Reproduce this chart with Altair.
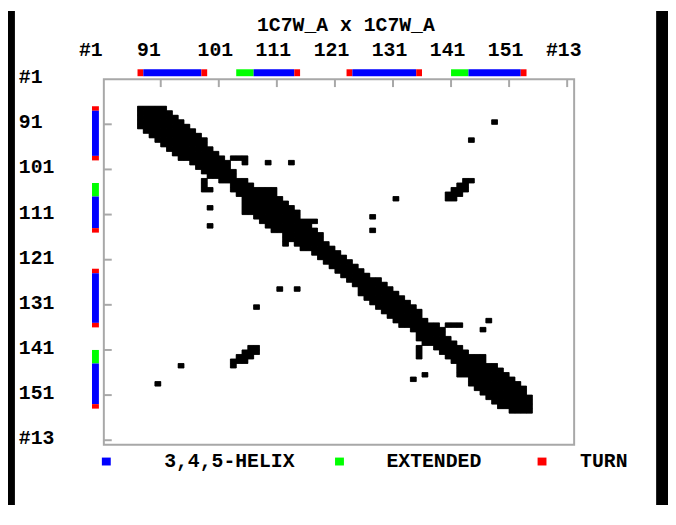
import altair as alt
import pandas as pd

# ---------------- data ----------------
TITLE = "1C7W_A x 1C7W_A"
AXIS_TICKS = [81, 91, 101, 111, 121, 131, 141, 151, 161]
AXIS_LABELS = ["#1", "91", "101", "111", "121", "131", "141", "151", "#13"]

# contact band: for residue BAND_START + k, contacts run up to BAND_UPPER[k]
BAND_START = 87
BAND_UPPER = [91, 92, 93, 94, 95, 96, 97, 98, 98, 99,
              100, 101, 102, 102, 103, 103, 105, 106, 110, 110,
              111, 112, 113, 114, 114, 117, 116, 117, 118, 118,
              119, 120, 121, 122, 123, 124, 125, 126, 128, 129,
              130, 131, 132, 133, 134, 135, 135, 136, 138, 139,
              139, 140, 141, 142, 143, 146, 146, 148, 149, 150,
              151, 152, 153, 153, 154, 154, 154, 154]

# isolated contacts (residue i, residue j), mirrored in the map
EXTRA_I = [98, 98, 98, 99, 99, 99, 90, 94, 107, 111, 114,
           103, 103, 104, 104, 105, 105, 105, 106, 106, 106, 107, 107,
           135, 135, 135, 134, 136]
EXTRA_J = [103, 104, 105, 105, 109, 113, 148, 144, 131, 127, 127,
           143, 144, 142, 143, 141, 142, 143, 140, 141, 142, 140, 141,
           140, 141, 142, 147, 146]

# secondary structure segments
SS_TYPE = ["TURN", "HELIX", "TURN", "EXTENDED", "HELIX", "TURN",
           "TURN", "HELIX", "TURN", "EXTENDED", "HELIX", "TURN"]
SS_FROM = [87, 88, 98, 104, 107, 114, 123, 124, 135, 141, 144, 153]
SS_TO = [87, 97, 98, 106, 113, 114, 123, 134, 135, 143, 152, 153]

LEGEND_KEYS = ["HELIX", "EXTENDED", "TURN"]
LEGEND_TEXT = ["3,4,5-HELIX", "EXTENDED", "TURN"]
SS_COLORS = ["#0000ff", "#00ff00", "#ff0000"]

# ---------------- tables ----------------
cells = set()
for k, u in enumerate(BAND_UPPER):
    r = BAND_START + k
    for c in range(r, u + 1):
        cells.add((r, c))
        cells.add((c, r))
for i, j in zip(EXTRA_I, EXTRA_J):
    cells.add((i, j))
    cells.add((j, i))


def merge_runs(pairs):
    """pairs: (line, pos) -> list of (line, start, end_exclusive)"""
    out = []
    for ln in sorted({p[0] for p in pairs}):
        pos = sorted(q for (l, q) in pairs if l == ln)
        start = prev = pos[0]
        for q in pos[1:]:
            if q == prev + 1:
                prev = q
                continue
            out.append((ln, start, prev + 1))
            start = prev = q
        out.append((ln, start, prev + 1))
    return out


row_runs = pd.DataFrame(merge_runs(cells), columns=["row", "col", "col2"])
row_runs["row2"] = row_runs["row"] + 1
col_runs = pd.DataFrame(merge_runs({(c, r) for (r, c) in cells}),
                        columns=["col", "row", "row2"])
col_runs["col2"] = col_runs["col"] + 1

ss_df = pd.DataFrame({"type": SS_TYPE, "start": SS_FROM,
                      "end": [t + 1 for t in SS_TO]})
lab_df = pd.DataFrame({"pos": AXIS_TICKS, "label": AXIS_LABELS})
tick_df = pd.DataFrame({"pos": AXIS_TICKS[1:]})
one = pd.DataFrame({"k": [0]})

FONT = "Liberation Mono"
GRAY = "#a8a8a8"
PX_PER_RES = 476 / 81.0
xs = alt.Scale(domain=[81.2, 162.2], nice=False, zero=False)
ys = alt.Scale(domain=[81, 162], reverse=True, nice=False, zero=False)
cs = alt.Scale(domain=LEGEND_KEYS, range=SS_COLORS)
txt = dict(font=FONT, fontSize=20, fontWeight="bold", color="black",
           baseline="middle")

layers = []

# black frame strips of the screenshot
strips = alt.Chart(one)
layers.append(strips.mark_rect(color="black").encode(
    x=alt.value(-97), x2=alt.value(-90), y=alt.value(-69), y2=alt.value(431)))
layers.append(strips.mark_rect(color="black").encode(
    x=alt.value(559), x2=alt.value(571), y=alt.value(-69), y2=alt.value(431)))

# contact cells, drawn as row runs and column runs so no seams show
for df in (row_runs, col_runs):
    layers.append(alt.Chart(df).mark_rect(
        color="black", stroke="black", strokeWidth=0.5).encode(
        x=alt.X("col:Q", scale=xs, axis=None), x2="col2:Q",
        y=alt.Y("row:Q", scale=ys, axis=None), y2="row2:Q"))

# inward ticks
layers.append(alt.Chart(tick_df).mark_rule(color=GRAY, strokeWidth=2).encode(
    x=alt.X("pos:Q", scale=xs, axis=None), y=alt.value(0), y2=alt.value(8)))
layers.append(alt.Chart(tick_df).mark_rule(color=GRAY, strokeWidth=2).encode(
    y=alt.Y("pos:Q", scale=ys, axis=None), x=alt.value(0), x2=alt.value(8)))

# secondary structure bars
layers.append(alt.Chart(ss_df).mark_rect().encode(
    x=alt.X("start:Q", scale=xs, axis=None), x2="end:Q",
    y=alt.value(-10), y2=alt.value(-3),
    color=alt.Color("type:N", scale=cs, legend=None)))
layers.append(alt.Chart(ss_df).mark_rect().encode(
    y=alt.Y("start:Q", scale=ys, axis=None), y2="end:Q",
    x=alt.value(-12), x2=alt.value(-5),
    color=alt.Color("type:N", scale=cs, legend=None)))

# axis labels (top ones start about 29px left of their tick, wide glyphs)
layers.append(alt.Chart(lab_df).transform_calculate(
    xc=f"datum.pos + (-29 + 8.5 * length(datum.label)) / {PX_PER_RES}"
).mark_text(align="center", **txt).encode(
    x=alt.X("xc:Q", scale=xs, axis=None), y=alt.value(-29), text="label:N"))
layers.append(alt.Chart(lab_df).mark_text(align="left", dy=-2, **txt).encode(
    y=alt.Y("pos:Q", scale=ys, axis=None), x=alt.value(-86), text="label:N"))

# title
layers.append(alt.Chart(pd.DataFrame({"t": [TITLE]})).mark_text(
    align="center", **txt).encode(
    x=alt.value(245), y=alt.value(-55), text="t:N"))

# legend
sq_x = [-2, 234, 439]
tx_x = [127, 334, 506]
for key, label, sx, tx in zip(LEGEND_KEYS, LEGEND_TEXT, sq_x, tx_x):
    d = pd.DataFrame({"type": [key], "t": [label]})
    layers.append(alt.Chart(d).mark_rect().encode(
        x=alt.value(sx), x2=alt.value(sx + 9), y=alt.value(383), y2=alt.value(391),
        color=alt.Color("type:N", scale=cs, legend=None)))
    layers.append(alt.Chart(d).mark_text(align="center", **txt).encode(
        x=alt.value(tx), y=alt.value(387), text="t:N"))

chart = alt.layer(*layers).properties(
    width=476, height=370,
    padding={"left": 97, "top": 69, "right": 95, "bottom": 61},
    autosize="none",
    background="white",
).configure_view(stroke=GRAY, strokeWidth=2)

chart.save("out.html", embed_options={"renderer": "svg", "actions": False})
